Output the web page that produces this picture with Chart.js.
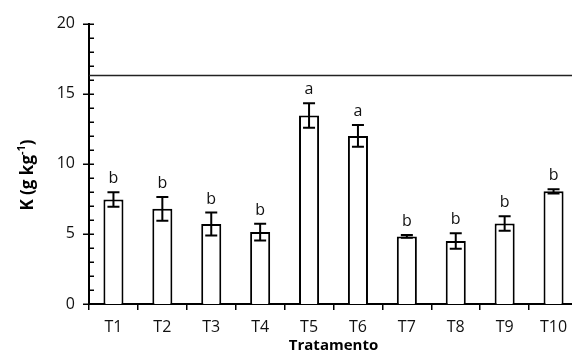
<!DOCTYPE html>
<html><head><meta charset="utf-8">
<script src="https://cdn.jsdelivr.net/npm/chart.js@4/dist/chart.umd.min.js"></script>
<style>html,body{margin:0;padding:0;overflow:hidden;background:#fff}#wrap{width:580px;height:354px}</style>
</head><body><div id="wrap"><canvas id="c" width="580" height="354" style="width:580px;height:354px"></canvas></div>
<script>
const categories = ['T1','T2','T3','T4','T5','T6','T7','T8','T9','T10'];
const means = [7.45, 6.79, 5.70, 5.13, 13.45, 11.99, 4.82, 4.49, 5.74, 8.04];
const errors = [0.52, 0.85, 0.82, 0.60, 0.87, 0.78, 0.10, 0.55, 0.52, 0.15];
const letters = ['b','b','b','b','a','a','b','b','b','b'];
const referenceLine = 16.3;
const yMin = 0, yMax = 20, yStep = 5, yMinorStep = 1;
const xTitle = 'Tratamento';
const yTitleMain = 'K (g kg';
const yTitleSup = '-1';
const yTitleEnd = ')';

const FONT = '"Open Sans", "Liberation Sans", sans-serif';

const decorPlugin = {
  id: 'decor',
  afterDatasetsDraw(chart) {
    const ctx = chart.ctx, y = chart.scales.y, area = chart.chartArea;
    const meta = chart.getDatasetMeta(0);
    ctx.save();
    // reference line
    const ry = y.getPixelForValue(referenceLine);
    ctx.strokeStyle = '#222'; ctx.lineWidth = 1.5;
    ctx.beginPath(); ctx.moveTo(area.left, ry); ctx.lineTo(area.right + 5, ry); ctx.stroke();
    // error bars + letters
    ctx.strokeStyle = '#000'; ctx.lineWidth = 2;
    ctx.fillStyle = '#111';
    ctx.font = '16px ' + FONT;
    ctx.textAlign = 'center'; ctx.textBaseline = 'alphabetic';
    meta.data.forEach((el, i) => {
      const x = el.x;
      const top = y.getPixelForValue(means[i] + errors[i]);
      const bot = y.getPixelForValue(means[i] - errors[i]);
      ctx.beginPath();
      ctx.moveTo(x, top); ctx.lineTo(x, bot);
      ctx.moveTo(x - 6, top); ctx.lineTo(x + 6, top);
      ctx.moveTo(x - 6, bot); ctx.lineTo(x + 6, bot);
      ctx.stroke();
      ctx.fillText(letters[i], x, top - 9);
    });
    // y ticks (major crossing, minor inside)
    ctx.lineWidth = 1.5; ctx.strokeStyle = '#000';
    for (let v = yMin; v <= yMax; v += yMinorStep) {
      const p = Math.round(y.getPixelForValue(v)) + 0.25;
      ctx.beginPath();
      if (v % yStep === 0) { ctx.moveTo(area.left - 6, p); ctx.lineTo(area.left + 5, p); }
      else { ctx.moveTo(area.left, p); ctx.lineTo(area.left + 5, p); }
      ctx.stroke();
    }
    // x title
    ctx.fillStyle = '#000';
    ctx.font = 'bold 15px ' + FONT;
    ctx.textAlign = 'center'; ctx.textBaseline = 'alphabetic';
    ctx.fillText(xTitle, (area.left + 578) / 2 , 350);
    // y title with superscript
    ctx.translate(28, 175);
    ctx.rotate(-Math.PI / 2);
    const fMain = 'bold 17px ' + FONT, fSup = 'bold 11px ' + FONT;
    ctx.font = fMain; const w1 = ctx.measureText(yTitleMain).width; const w3 = ctx.measureText(yTitleEnd).width;
    ctx.font = fSup; const w2 = ctx.measureText(yTitleSup).width;
    let sx = -(w1 + w2 + w3) / 2;
    ctx.textAlign = 'left'; ctx.textBaseline = 'middle';
    ctx.font = fMain; ctx.fillText(yTitleMain, sx, 0); sx += w1;
    ctx.font = fSup; ctx.fillText(yTitleSup, sx, -6); sx += w2;
    ctx.font = fMain; ctx.fillText(yTitleEnd, sx, 0);
    ctx.restore();
  }
};

function build() {
  new Chart(document.getElementById('c'), {
    type: 'bar',
    data: {
      labels: categories,
      datasets: [{
        data: means,
        backgroundColor: '#fff',
        borderColor: '#000',
        borderWidth: 2,
        barPercentage: 0.41,
        categoryPercentage: 1
      }]
    },
    options: {
      responsive: false,
      animation: false,
      devicePixelRatio: 1,
      layout: { padding: { left: 0, top: 22, right: 2, bottom: 0 } },
      plugins: { legend: { display: false }, tooltip: { enabled: false } },
      scales: {
        x: {
          afterFit(s) { s.height = 50; },
          grid: { display: true, drawOnChartArea: false, drawTicks: true, tickLength: 6, color: '#000', lineWidth: 1.5, offset: true },
          border: { display: true, color: '#000', width: 2 },
          ticks: { color: '#111', font: { family: FONT, size: 16 }, padding: 8, maxRotation: 0, autoSkip: false }
        },
        y: {
          min: yMin, max: yMax,
          afterFit(s) { s.width = 89; },
          grid: { display: false, drawTicks: false },
          border: { display: true, color: '#000', width: 2 },
          ticks: { stepSize: yStep, color: '#111', font: { family: FONT, size: 16 }, padding: 14 }
        }
      }
    },
    plugins: [decorPlugin]
  });
}
if (document.fonts && document.fonts.load) {
  Promise.all([document.fonts.load('16px "Open Sans"'), document.fonts.load('bold 15px "Open Sans"')]).then(build, build);
} else build();
</script>
</body></html>
